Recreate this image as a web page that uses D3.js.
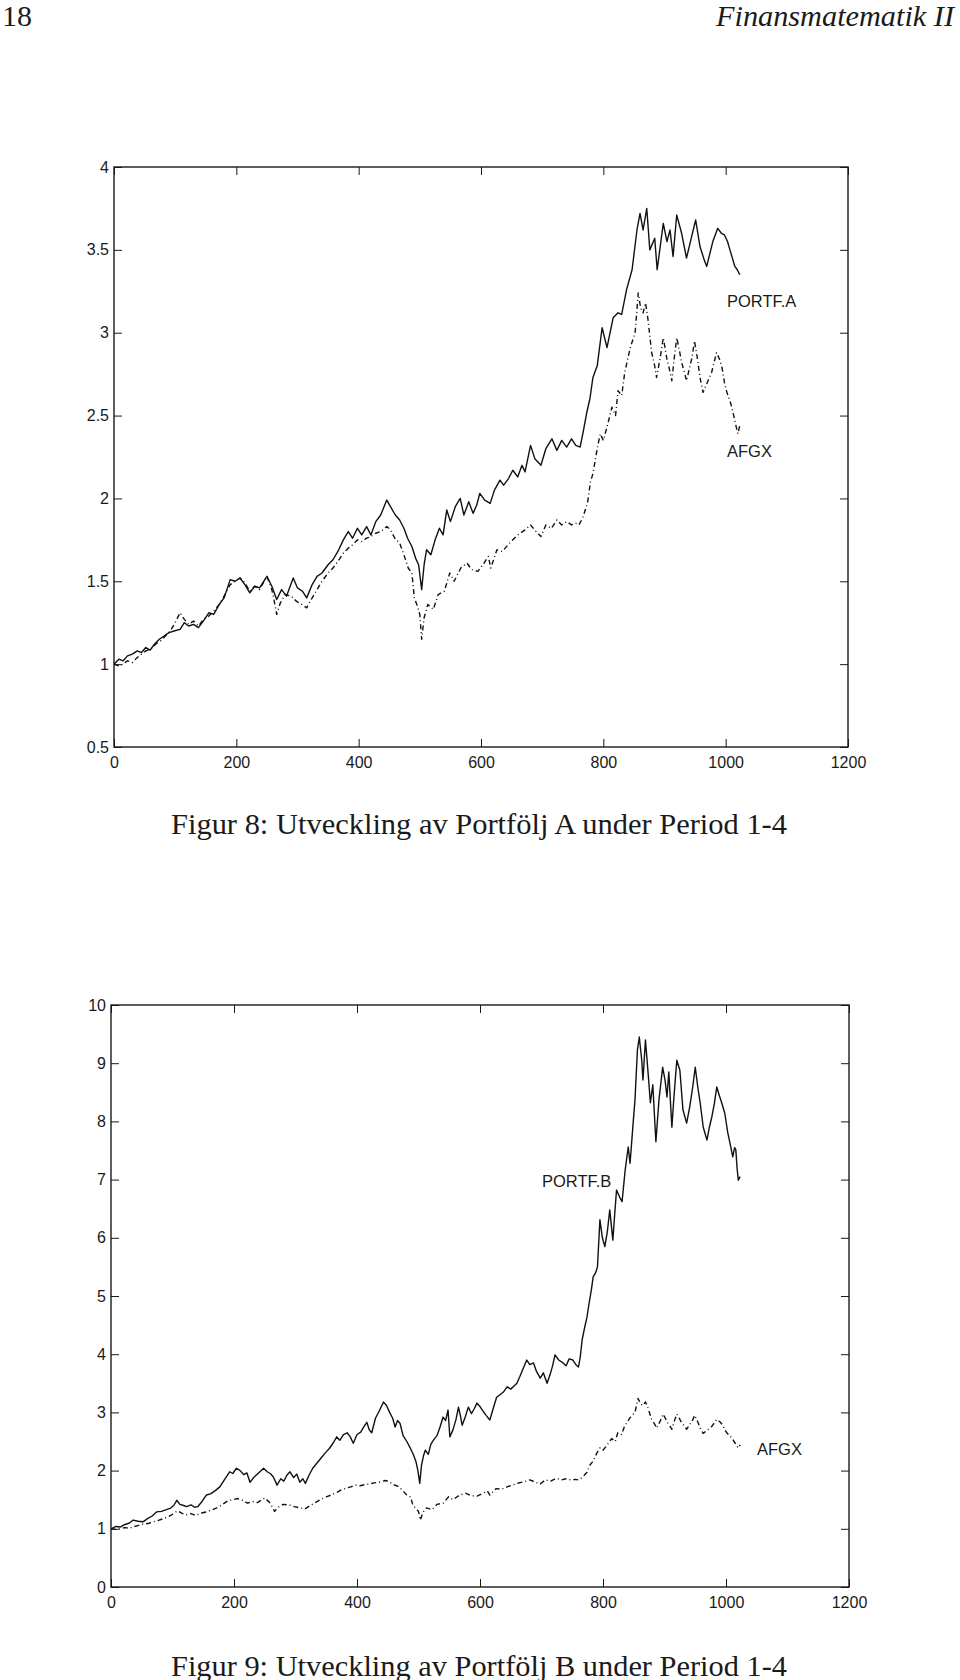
<!DOCTYPE html>
<html>
<head>
<meta charset="utf-8">
<script src="https://cdn.jsdelivr.net/npm/d3@7"></script>
<style>
  html, body { margin: 0; padding: 0; background: #fff; }
  svg { display: block; }
</style>
</head>
<body>
<svg id="page" width="960" height="1680"></svg>
<script>
// ---------------- DATA ----------------
const xTicks = [0, 200, 400, 600, 800, 1000, 1200];
const yTicksA = [0.5, 1, 1.5, 2, 2.5, 3, 3.5, 4];
const yTicksB = [0, 1, 2, 3, 4, 5, 6, 7, 8, 9, 10];

// Portfolio A value index [day, value]
const portfA = [
[0,1.00],[8,1.03],[15,1.02],[22,1.05],[30,1.06],[38,1.08],[45,1.07],[52,1.10],[59,1.085],[66,1.12],
[74,1.15],[82,1.17],[90,1.19],[98,1.20],[108,1.21],[115,1.25],[122,1.23],[130,1.24],[138,1.22],[146,1.26],
[155,1.31],[163,1.30],[172,1.36],[180,1.40],[190,1.51],[198,1.50],[206,1.52],[214,1.48],[222,1.43],[230,1.47],
[238,1.46],[250,1.53],[258,1.47],[266,1.39],[274,1.45],[282,1.41],[293,1.52],[300,1.46],[308,1.44],[315,1.40],
[324,1.48],[332,1.53],[340,1.55],[350,1.60],[358,1.63],[366,1.68],[375,1.75],[383,1.80],[390,1.76],[398,1.82],
[405,1.78],[413,1.83],[420,1.78],[428,1.86],[436,1.90],[446,1.99],[452,1.95],[460,1.90],[467,1.87],[474,1.82],
[480,1.76],[487,1.71],[493,1.64],[498,1.60],[503,1.45],[507,1.60],[511,1.69],[518,1.66],[525,1.75],[532,1.82],
[538,1.78],[544,1.93],[550,1.86],[558,1.95],[566,2.00],[572,1.90],[580,1.98],[587,1.91],[593,1.96],[598,2.03],
[606,1.99],[615,1.97],[622,2.05],[631,2.11],[637,2.08],[645,2.12],[652,2.17],[660,2.13],[667,2.20],[672,2.16],
[681,2.32],[688,2.24],[698,2.20],[706,2.30],[716,2.36],[724,2.29],[732,2.35],[740,2.31],[748,2.36],[755,2.32],
[762,2.31],[767,2.40],[773,2.52],[778,2.60],[783,2.73],[790,2.80],[798,3.03],[806,2.91],[816,3.09],[824,3.12],
[830,3.11],[838,3.26],[847,3.38],[855,3.62],[860,3.72],[865,3.62],[871,3.75],[876,3.50],[884,3.57],[888,3.38],
[898,3.66],[904,3.55],[909,3.62],[914,3.46],[920,3.71],[928,3.60],[936,3.45],[945,3.59],[951,3.68],[958,3.52],
[964,3.45],[969,3.40],[979,3.55],[987,3.63],[993,3.60],[998,3.59],[1003,3.55],[1007,3.50],[1011,3.45],[1015,3.40],
[1019,3.38],[1023,3.35]
];

// AFGX index [day, value] (same series in both figures)
const afgx = [
[0,1.00],[8,0.99],[15,1.00],[22,1.02],[30,1.01],[38,1.04],[45,1.06],[52,1.08],[60,1.09],[68,1.12],
[76,1.14],[84,1.17],[92,1.20],[100,1.25],[108,1.31],[115,1.27],[122,1.24],[130,1.26],[138,1.23],[146,1.27],
[155,1.29],[163,1.32],[172,1.36],[180,1.41],[190,1.48],[198,1.50],[206,1.52],[214,1.49],[222,1.44],[230,1.47],
[238,1.45],[250,1.53],[258,1.45],[262,1.38],[266,1.30],[272,1.37],[280,1.42],[290,1.41],[298,1.38],[307,1.36],
[315,1.34],[324,1.40],[332,1.45],[340,1.50],[350,1.55],[358,1.58],[366,1.62],[375,1.67],[383,1.70],[390,1.72],
[398,1.75],[405,1.74],[413,1.76],[420,1.77],[428,1.79],[436,1.80],[446,1.83],[452,1.81],[459,1.76],[467,1.73],
[474,1.66],[481,1.58],[487,1.55],[491,1.40],[495,1.36],[500,1.30],[503,1.15],[507,1.28],[513,1.36],[522,1.33],
[530,1.42],[540,1.44],[549,1.55],[556,1.50],[567,1.58],[577,1.61],[585,1.57],[595,1.56],[603,1.60],[612,1.65],
[616,1.58],[626,1.69],[635,1.68],[644,1.72],[652,1.75],[660,1.78],[672,1.81],[681,1.84],[690,1.80],[698,1.77],
[706,1.84],[715,1.82],[724,1.87],[732,1.84],[740,1.86],[748,1.84],[755,1.85],[760,1.84],[766,1.88],[774,1.97],
[779,2.10],[783,2.15],[790,2.30],[795,2.39],[800,2.35],[806,2.43],[814,2.55],[820,2.50],[824,2.65],[830,2.62],
[835,2.76],[844,2.91],[852,3.00],[857,3.24],[861,3.15],[865,3.12],[869,3.18],[873,3.08],[879,2.88],[884,2.80],
[887,2.73],[893,2.85],[898,2.97],[904,2.84],[908,2.78],[912,2.71],[916,2.85],[920,2.97],[924,2.90],[928,2.82],
[932,2.77],[936,2.71],[941,2.79],[945,2.85],[949,2.95],[954,2.84],[958,2.73],[963,2.64],[970,2.70],[977,2.76],
[985,2.88],[990,2.84],[994,2.79],[998,2.70],[1002,2.64],[1006,2.60],[1010,2.55],[1015,2.47],[1018,2.42],[1020,2.39],
[1023,2.44]
];

// Portfolio B value index [day, value]
const portfB = [
[0,1.00],[8,1.04],[15,1.03],[22,1.07],[30,1.10],[36,1.15],[44,1.13],[52,1.12],[60,1.18],[67,1.22],
[74,1.29],[82,1.30],[90,1.33],[96,1.35],[102,1.40],[107,1.49],[112,1.42],[118,1.40],[123,1.38],[130,1.41],
[136,1.37],[141,1.38],[148,1.47],[155,1.58],[162,1.60],[170,1.66],[177,1.72],[183,1.82],[188,1.90],[193,1.98],
[198,1.95],[204,2.04],[210,2.00],[216,1.93],[221,1.96],[226,1.80],[232,1.88],[238,1.94],[243,1.99],[248,2.04],
[254,1.98],[259,1.95],[264,1.89],[270,1.75],[276,1.86],[281,1.82],[286,1.92],[291,1.98],[297,1.88],[302,1.94],
[307,1.80],[312,1.86],[316,1.78],[322,1.92],[328,2.04],[335,2.13],[342,2.22],[348,2.30],[355,2.38],[361,2.47],
[367,2.58],[372,2.52],[378,2.62],[384,2.65],[389,2.58],[394,2.47],[400,2.62],[406,2.66],[411,2.75],[416,2.83],
[420,2.70],[424,2.65],[430,2.90],[436,3.02],[443,3.18],[448,3.12],[453,3.00],[458,2.90],[462,2.75],[466,2.86],
[470,2.81],[475,2.60],[481,2.50],[486,2.40],[491,2.29],[496,2.15],[499,2.00],[502,1.78],[505,2.10],[508,2.25],
[511,2.35],[516,2.28],[520,2.45],[524,2.52],[530,2.60],[535,2.75],[540,2.92],[544,2.86],[548,3.04],[551,2.58],
[556,2.70],[561,2.88],[565,3.09],[568,2.95],[571,2.78],[576,2.92],[581,3.09],[586,2.98],[590,3.05],[595,3.16],
[600,3.10],[605,3.02],[610,2.95],[616,2.87],[621,3.05],[627,3.26],[632,3.30],[638,3.35],[644,3.44],[650,3.40],
[655,3.45],[660,3.50],[665,3.62],[670,3.75],[676,3.90],[681,3.82],[687,3.85],[692,3.70],[698,3.59],[703,3.68],
[709,3.50],[714,3.65],[718,3.80],[722,3.99],[728,3.90],[735,3.85],[740,3.80],[745,3.92],[751,3.90],[756,3.82],
[760,3.78],[763,3.95],[766,4.24],[770,4.45],[774,4.64],[777,4.85],[781,5.10],[784,5.33],[788,5.40],[791,5.50],
[795,6.31],[799,6.00],[803,5.85],[807,6.10],[811,6.48],[816,5.96],[819,6.40],[822,6.82],[827,6.70],[831,6.62],
[836,7.16],[841,7.56],[844,7.28],[849,7.97],[852,8.37],[856,9.23],[859,9.45],[863,9.05],[865,8.71],[869,9.40],
[873,8.88],[877,8.32],[881,8.63],[886,7.65],[891,8.37],[897,8.93],[901,8.70],[904,8.42],[907,8.85],[912,7.90],
[915,8.37],[920,9.05],[925,8.88],[930,8.20],[936,7.97],[941,8.25],[946,8.60],[950,8.93],[954,8.60],[958,8.32],
[963,7.90],[969,7.68],[973,7.90],[977,8.08],[981,8.30],[985,8.59],[989,8.45],[993,8.32],[998,8.14],[1003,7.80],
[1007,7.60],[1011,7.39],[1014,7.55],[1016,7.51],[1018,7.20],[1020,6.99],[1023,7.05]
];

const header = { left: "18", right: "Finansmatematik II" };
const caption1 = "Figur 8: Utveckling av Portfölj A under Period 1-4";
const caption2 = "Figur 9: Utveckling av Portfölj B under Period 1-4";

// ---------------- DRAW ----------------
const svg = d3.select("#page");
const SANS = "'Liberation Sans', Arial, Helvetica, sans-serif";
const SERIF = "'Liberation Serif', 'DejaVu Serif', serif";
const INK = "#1a1a1a";

svg.append("text").attr("x", 2).attr("y", 26)
  .attr("font-family", SERIF).attr("font-size", 30).attr("fill", INK)
  .text(header.left);
svg.append("text").attr("x", 716).attr("y", 26)
  .attr("font-family", SERIF).attr("font-style", "italic").attr("font-size", 30).attr("fill", INK)
  .attr("textLength", 238).attr("lengthAdjust", "spacingAndGlyphs")
  .text(header.right);

function drawChart(cfg) {
  const { left, right, top, bottom, yDomain, yTicks, yFmt, series, labels, caption, captionY } = cfg;
  const x = d3.scaleLinear().domain([0, 1200]).range([left, right]);
  const y = d3.scaleLinear().domain(yDomain).range([bottom, top]);
  const g = svg.append("g");

  const styleAxis = sel => {
    sel.select(".domain").remove();
    sel.selectAll(".tick line").attr("stroke", INK).attr("stroke-width", 1);
    sel.selectAll(".tick text").attr("font-family", SANS).attr("font-size", 16).attr("fill", INK);
  };

  g.append("g").attr("transform", `translate(0,${bottom})`)
    .call(d3.axisBottom(x).tickValues(xTicks).tickSizeInner(-8).tickSizeOuter(0).tickPadding(10).tickFormat(d3.format("d")))
    .call(styleAxis);
  g.append("g").attr("transform", `translate(0,${top})`)
    .call(d3.axisTop(x).tickValues(xTicks).tickSizeInner(-8).tickSizeOuter(0).tickFormat(""))
    .call(styleAxis);
  g.append("g").attr("transform", `translate(${left},0)`)
    .call(d3.axisLeft(y).tickValues(yTicks).tickSizeInner(-8).tickSizeOuter(0).tickPadding(5).tickFormat(yFmt))
    .call(styleAxis);
  g.append("g").attr("transform", `translate(${right},0)`)
    .call(d3.axisRight(y).tickValues(yTicks).tickSizeInner(-8).tickSizeOuter(0).tickFormat(""))
    .call(styleAxis);

  g.append("rect")
    .attr("x", left).attr("y", top)
    .attr("width", right - left).attr("height", bottom - top)
    .attr("fill", "none").attr("stroke", INK).attr("stroke-width", 1.4);

  const line = d3.line().x(d => x(d[0])).y(d => y(d[1]));
  series.forEach(s => {
    g.append("path").datum(s.data)
      .attr("d", line)
      .attr("fill", "none")
      .attr("stroke", "#111")
      .attr("stroke-width", 1.4)
      .attr("stroke-linejoin", "round")
      .attr("stroke-dasharray", s.dash || null);
  });

  labels.forEach(l => {
    g.append("text").attr("x", l.x).attr("y", l.y)
      .attr("font-family", SANS).attr("font-size", 16.5).attr("fill", INK)
      .text(l.text);
  });

  svg.append("text").attr("x", 171).attr("y", captionY)
    .attr("font-family", SERIF).attr("font-size", 29).attr("fill", INK)
    .attr("textLength", 616).attr("lengthAdjust", "spacingAndGlyphs")
    .text(caption);
}

const fmtA = d => (Number.isInteger(d) ? d3.format("d")(d) : d3.format(".1f")(d));

drawChart({
  left: 114, right: 848, top: 167, bottom: 747,
  yDomain: [0.5, 4], yTicks: yTicksA, yFmt: fmtA,
  series: [
    { data: portfA },
    { data: afgx, dash: "5,3,1,3" }
  ],
  labels: [
    { text: "PORTF.A", x: 727, y: 307 },
    { text: "AFGX", x: 727, y: 457 }
  ],
  caption: caption1, captionY: 834
});

drawChart({
  left: 111, right: 849, top: 1005, bottom: 1587,
  yDomain: [0, 10], yTicks: yTicksB, yFmt: d3.format("d"),
  series: [
    { data: portfB },
    { data: afgx, dash: "5,3,1,3" }
  ],
  labels: [
    { text: "PORTF.B", x: 542, y: 1187 },
    { text: "AFGX", x: 757, y: 1455 }
  ],
  caption: caption2, captionY: 1676
});
</script>
</body>
</html>
